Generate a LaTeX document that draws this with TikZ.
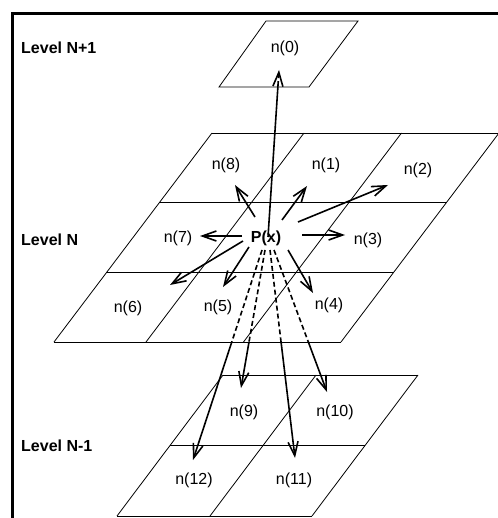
\documentclass[tikz,border=0pt]{standalone}
\usepackage{fontspec}
\setmainfont{Liberation Sans}
\usetikzlibrary{arrows.meta,calc}

\begin{document}
\begin{tikzpicture}[x=1pt,y=-1pt,
  grid/.style={line width=0.8pt,black},
  frame/.style={line width=2.6pt,black},
  lvl/.style={anchor=west,inner sep=0pt,font=\fontsize{16}{19}\selectfont\bfseries},
  lab/.style={inner sep=0pt,font=\fontsize{16}{19}\selectfont},
  ptlab/.style={inner sep=0pt,font=\fontsize{16}{19}\selectfont\bfseries},
  arr/.style={line width=1.6pt,-{Straight Barb[length=14pt,width=10pt,line width=1.6pt]}},
  seg/.style={line width=1.6pt},
  hid/.style={dash pattern=on 5pt off 3pt}]

  \useasboundingbox (0,0) rectangle (497,518);

  % outer frame (top and left rules)
  \draw[frame] (12.5,522) -- (12.5,13.5) -- (502,13.5);

  % level N+1 plane
  \draw[grid] (266,21) -- (358,21) -- (309,87) -- (219,87) -- cycle;

  % level N plane: 3 x 3 cells
  \foreach \r in {0,1,2,3}
    \draw[grid] ({212-0.756*69.67*\r},{133+69.67*\r}) -- ++(287,0);
  \foreach \c in {0,92,189.5,287}
    \draw[grid] (212+\c,133) -- (54+\c,342);

  % level N-1 plane: 2 x 2 cells
  \foreach \r/\y/\x in {0/375/223,1/445.5/170,2/516/117}
    \draw[grid] (\x,\y) -- ++(195,0);
  \foreach \c in {0,93,195}
    \draw[grid] (223+\c,375) -- (117+\c,516);

  % level labels
  \node[lvl] (lvlA) at (21,48)  {Level N+1};
  \node[lvl] (lvlB) at (21,240) {Level N};
  \node[lvl] (lvlC) at (21,446) {Level N-1};

  % cell labels
  \node[lab] (n0)  at (285,48)  {n(0)};
  \node[lab] (n8)  at (226,165) {n(8)};
  \node[lab] (n1)  at (326,165) {n(1)};
  \node[lab] (n2)  at (418,170) {n(2)};
  \node[lab] (n7)  at (178,238) {n(7)};
  \node[ptlab] (P) at (266,238) {P(x)};
  \node[lab] (n3)  at (368,240) {n(3)};
  \node[lab] (n6)  at (128,308) {n(6)};
  \node[lab] (n5)  at (218,307) {n(5)};
  \node[lab] (n4)  at (329,305) {n(4)};
  \node[lab] (n9)  at (244,412) {n(9)};
  \node[lab] (n10) at (335,412) {n(10)};
  \node[lab] (n12) at (194,480) {n(12)};
  \node[lab] (n11) at (294,480) {n(11)};

  % arrow tails around P(x)
  \coordinate (s8)  at (255,217);
  \coordinate (s1)  at (282,220);
  \coordinate (s2)  at (298,222);
  \coordinate (s7)  at (242,236);
  \coordinate (s3)  at (302,235);
  \coordinate (s6)  at (243,241);
  \coordinate (s5)  at (249,247);
  \coordinate (s4)  at (288,250);
  \coordinate (s0)  at (268,237);
  \coordinate (s12) at (262,250);
  \coordinate (s9)  at (265,250);
  \coordinate (s11) at (270,250);
  \coordinate (s10) at (274,250);

  % arrow tips
  \coordinate (e8)  at (235,185);
  \coordinate (e1)  at (307,186);
  \coordinate (e2)  at (388,185);
  \coordinate (e7)  at (200,236);
  \coordinate (e3)  at (345,235);
  \coordinate (e6)  at (170,285);
  \coordinate (e5)  at (223,287);
  \coordinate (e4)  at (313,293);
  \coordinate (e0)  at (279,70);
  \coordinate (e12) at (193,460);
  \coordinate (e9)  at (241,388);
  \coordinate (e11) at (295,458);
  \coordinate (e10) at (327,392);

  % neighbours within level N
  \foreach \k in {8,1,2,7,3,6,5,4}
    \draw[arr] (s\k) -- (e\k);

  % upward to level N+1: hidden part above the plane edge
  \coordinate (m0) at ($(s0)!0.904!(e0)$);
  \draw[seg] (s0) -- (m0);
  \draw[arr,hid] (m0) -- (e0);

  % downward to level N-1: hidden part inside level N
  \foreach \k/\t in {12/0.438,9/0.667,11/0.442,10/0.648}{
    \coordinate (m\k) at ($(s\k)!\t!(e\k)$);
    \draw[seg,hid] (s\k) -- (m\k);
    \draw[arr] (m\k) -- (e\k);
  }
\end{tikzpicture}
\end{document}
